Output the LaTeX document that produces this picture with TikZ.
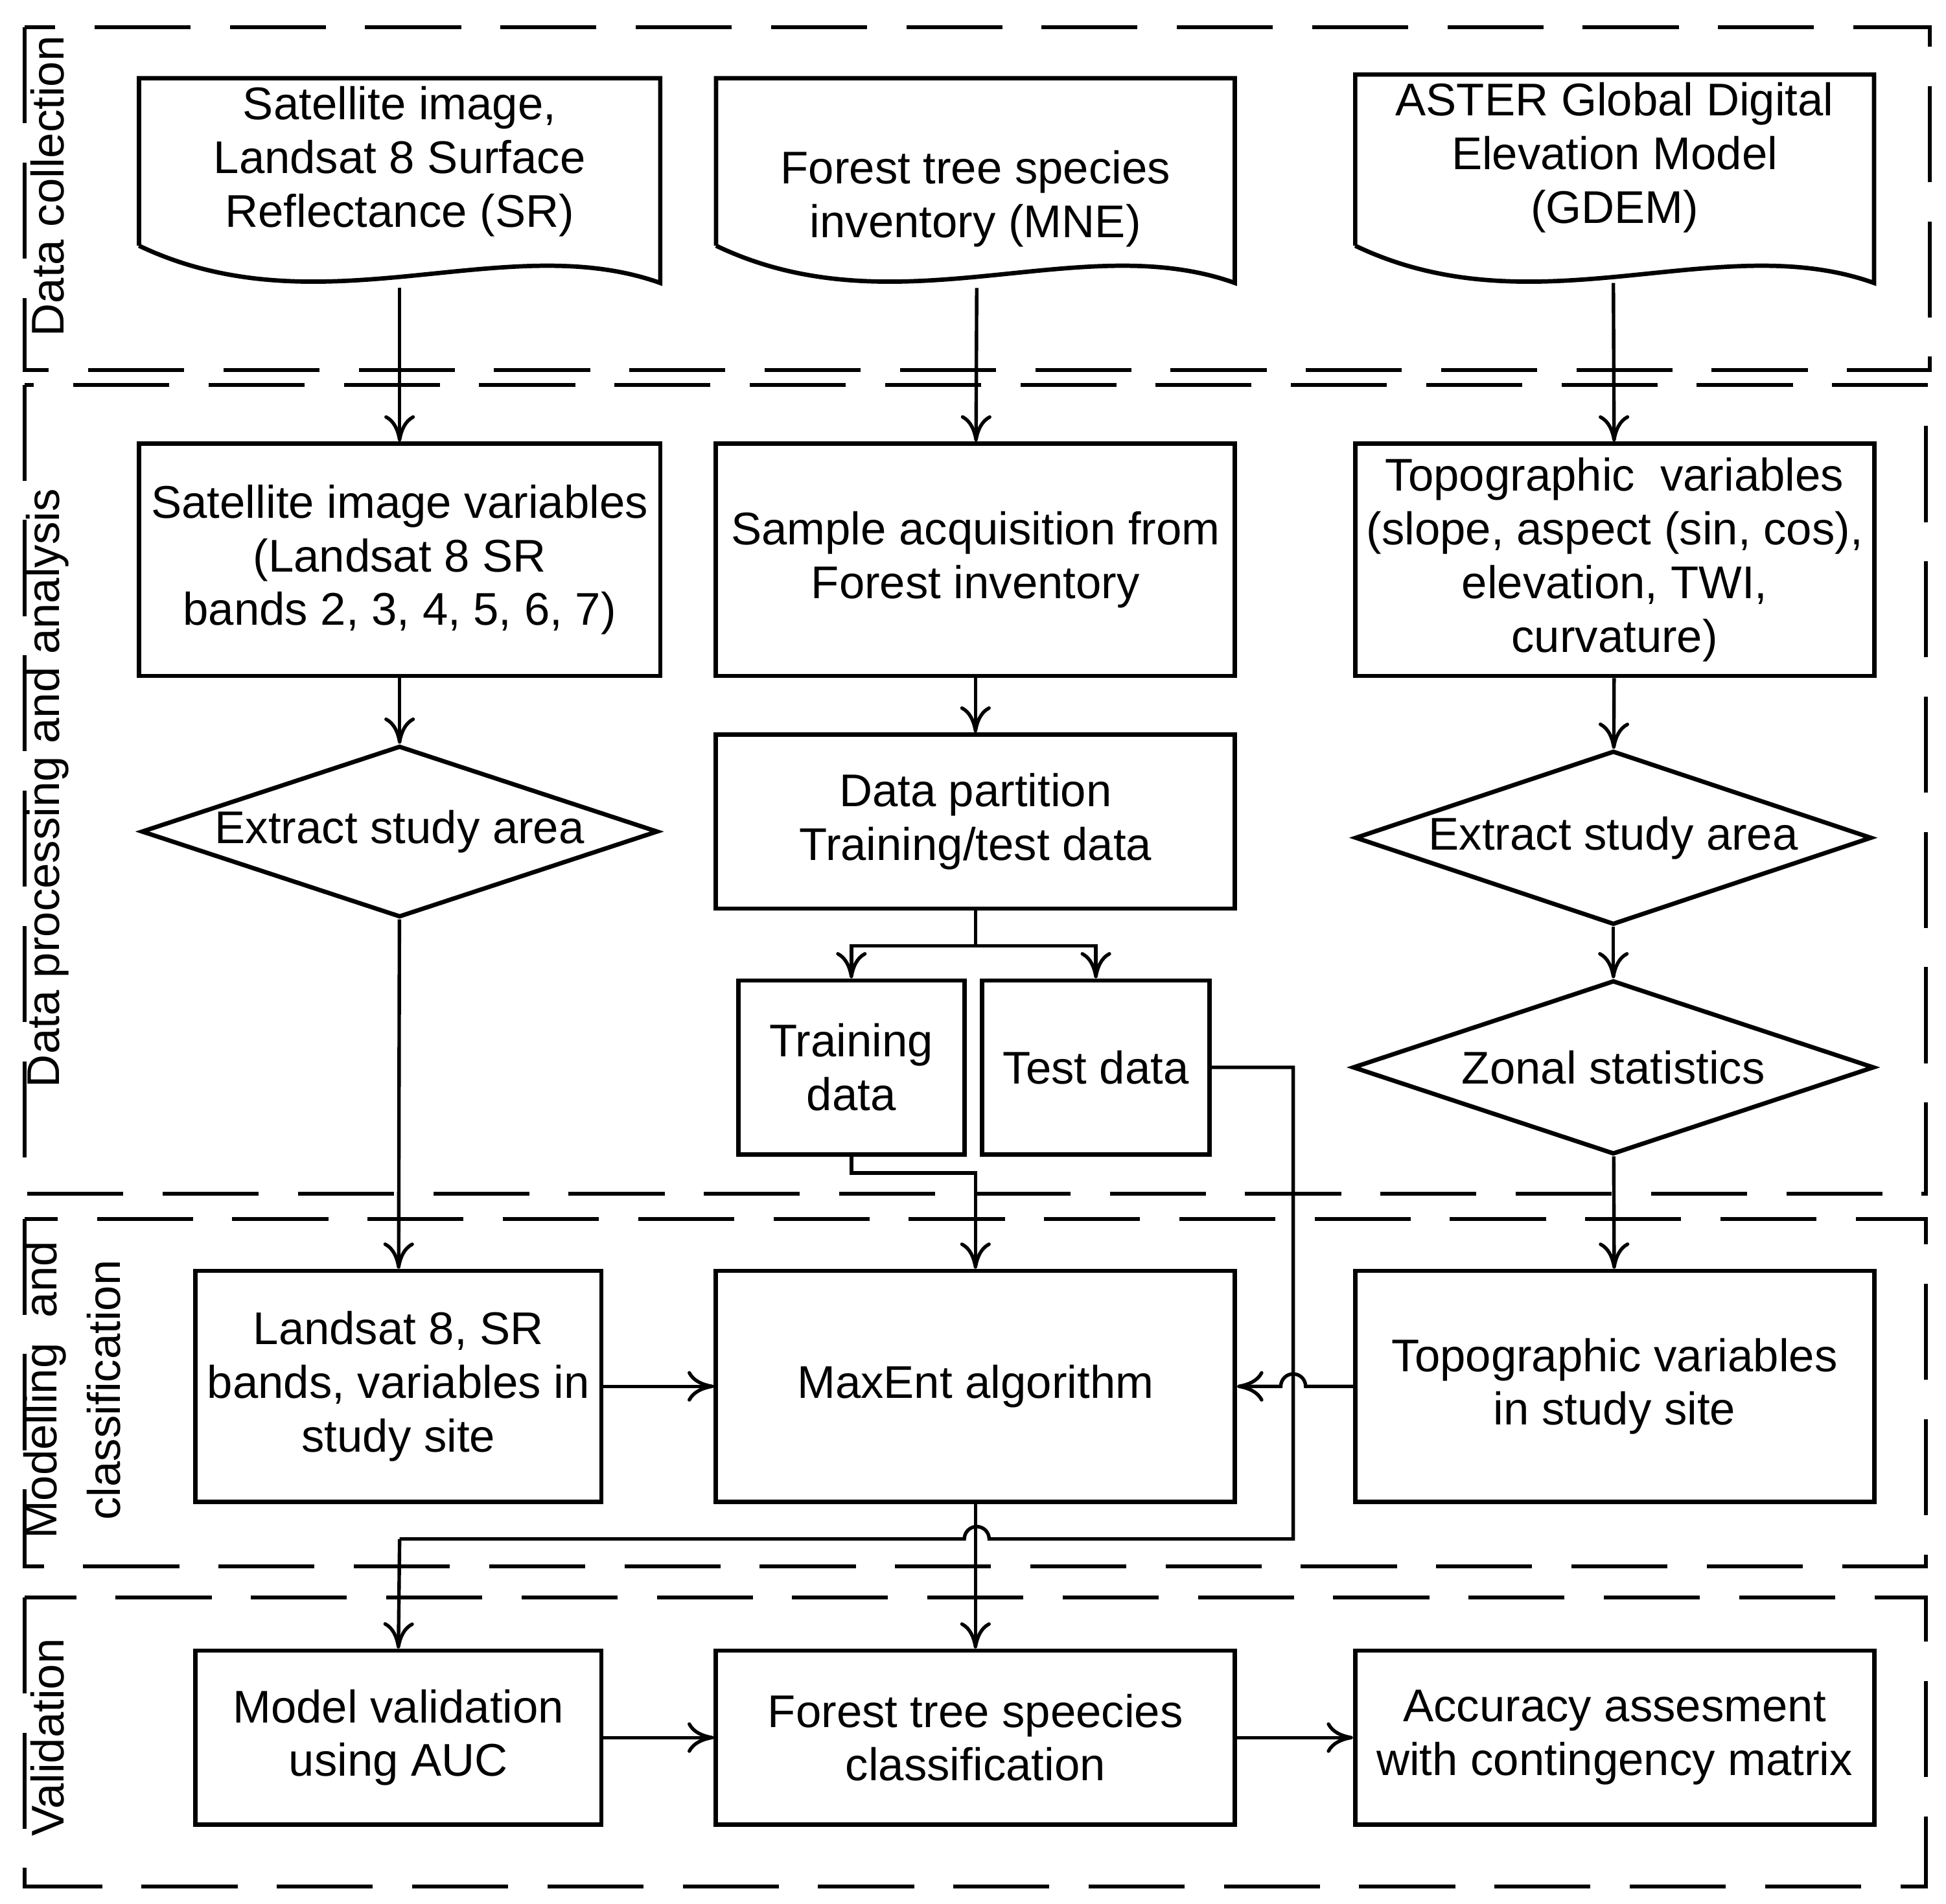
\documentclass[tikz,border=0pt]{standalone}
\usepackage{fontspec}
\setmainfont{Liberation Sans}
\usetikzlibrary{shapes.geometric,arrows.meta}
\begin{document}
\begin{tikzpicture}[x=0.01cm,y=-0.01cm,
  font=\fontsize{10.5}{12.3}\selectfont,
  box/.style={draw,line width=1pt,align=center,inner sep=0pt},
  dia/.style={draw,line width=1pt,diamond,aspect=3,inner sep=0pt,align=center},
  reg/.style={line width=0.9pt,dash pattern=on 22pt off 9pt},
  con/.style={line width=0.8pt,-{To[length=6pt,width=7pt]}},
  lin/.style={line width=0.8pt},
  lab/.style={rotate=90,anchor=center,align=center}]
\useasboundingbox (0,0) rectangle (1568,1534);
% regions
\draw[reg] (20,22) rectangle (1555,298);
\draw[reg] (20,310) rectangle (1552,962);
\draw[reg] (20,982) rectangle (1552,1262);
\draw[reg] (20,1287) rectangle (1552,1520);
\node[lab] (l1) at (38,150) {Data collection};
\node[lab] (l2) at (38,635) {Data processing and analysis};
\node[lab,font=\fontsize{10.5}{14.5}\selectfont] (l3) at (58,1120) {Modelling\ \ and\\ classification};
\node[lab] (l4) at (38,1400) {Validation};
% documents
\newcommand{\docshape}[4]{% x1 x2 y1 yb
  \draw[line width=1pt] (#1,#4-30) -- (#1,#3) -- (#2,#3) -- (#2,#4)
    .. controls ({#2-0.3*(#2-#1)},#4-45) and ({#1+0.35*(#2-#1)},#4+40) .. (#1,#4-30);}
\docshape{112}{532}{63}{228}
\docshape{577}{995}{63}{228}
\docshape{1092}{1510}{60}{228}
\node[align=center] (d1) at (322,130) {Satellite image,\\Landsat 8 Surface\\Reflectance (SR)};
\node[align=center] (d2) at (786,160) {Forest tree species\\inventory (MNE)};
\node[align=center] (d3) at (1301,127) {ASTER Global Digital\\Elevation Model\\(GDEM)};
\coordinate (d1b) at (322,232);
\coordinate (d2b) at (787,232);
\coordinate (d3b) at (1300,228);
% processing
\node[box,minimum width=4.2cm,minimum height=1.87cm] (b1) at (322,451) {Satellite image variables\\(Landsat 8 SR\\bands 2, 3, 4, 5, 6, 7)};
\node[box,minimum width=4.18cm,minimum height=1.87cm] (b2) at (786,451) {Sample acquisition from\\Forest inventory};
\node[box,minimum width=4.18cm,minimum height=1.87cm] (b3) at (1301,451) {Topographic\ \ variables\\(slope, aspect (sin, cos),\\elevation, TWI,\\curvature)};
\node[dia,minimum width=4.16cm,minimum height=1.38cm] (e1) at (322,670) {Extract study area};
\node[box,minimum width=4.18cm,minimum height=1.4cm] (p) at (786,662) {Data partition\\Training/test data};
\node[dia,minimum width=4.16cm,minimum height=1.4cm] (e2) at (1300,675) {Extract study area};
\node[dia,minimum width=4.2cm,minimum height=1.4cm] (z) at (1300,860) {Zonal statistics};
\node[box,minimum width=1.82cm,minimum height=1.4cm] (tr) at (686,860) {Training\\data};
\node[box,minimum width=1.83cm,minimum height=1.4cm] (te) at (883,860) {Test data};
% modelling
\node[box,minimum width=3.27cm,minimum height=1.86cm] (m1) at (321,1117) {Landsat 8, SR\\bands, variables in\\study site};
\node[box,minimum width=4.18cm,minimum height=1.86cm] (m2) at (786,1117) {MaxEnt algorithm};
\node[box,minimum width=4.18cm,minimum height=1.86cm] (m3) at (1301,1117) {Topographic variables\\in study site};
% validation
\node[box,minimum width=3.27cm,minimum height=1.4cm] (v1) at (321,1400) {Model validation\\using AUC};
\node[box,minimum width=4.18cm,minimum height=1.4cm] (v2) at (786,1400) {Forest tree speecies\\classification};
\node[box,minimum width=4.18cm,minimum height=1.4cm] (v3) at (1301,1400) {Accuracy assesment\\with contingency matrix};
% connectors
\draw[con] (d1b) -- (b1);
\draw[con] (d2b) -- (b2);
\draw[con] (d3b) -- (b3);
\draw[con] (b1) -- (e1);
\draw[con] (e1) -- (m1);
\draw[con] (b2) -- (p);
\draw[lin] (p.south) -- (786,762) coordinate (pj);
\draw[con] (pj) -| (tr.north);
\draw[con] (pj) -| (te.north);
\draw[con] (tr.south) -- (686,945) -| (m2.north);
\draw[con] (b3) -- (e2);
\draw[con] (e2) -- (z);
\draw[con] (z) -- (m3);
\draw[con] (m1) -- (m2);
\draw[con] (m3.west) -- (1052,1117) arc[start angle=0,end angle=-180,radius=10] -- (m2.east);
\draw[lin] (te.east) -- (1042,860) -- (1042,1240) -- (797,1240) arc[start angle=0,end angle=-180,radius=10] -- (322,1240) coordinate (vj);
\draw[con] (vj) -- (v1.north);
\draw[con] (m2) -- (v2);
\draw[con] (v1) -- (v2);
\draw[con] (v2) -- (v3);
\end{tikzpicture}
\end{document}
